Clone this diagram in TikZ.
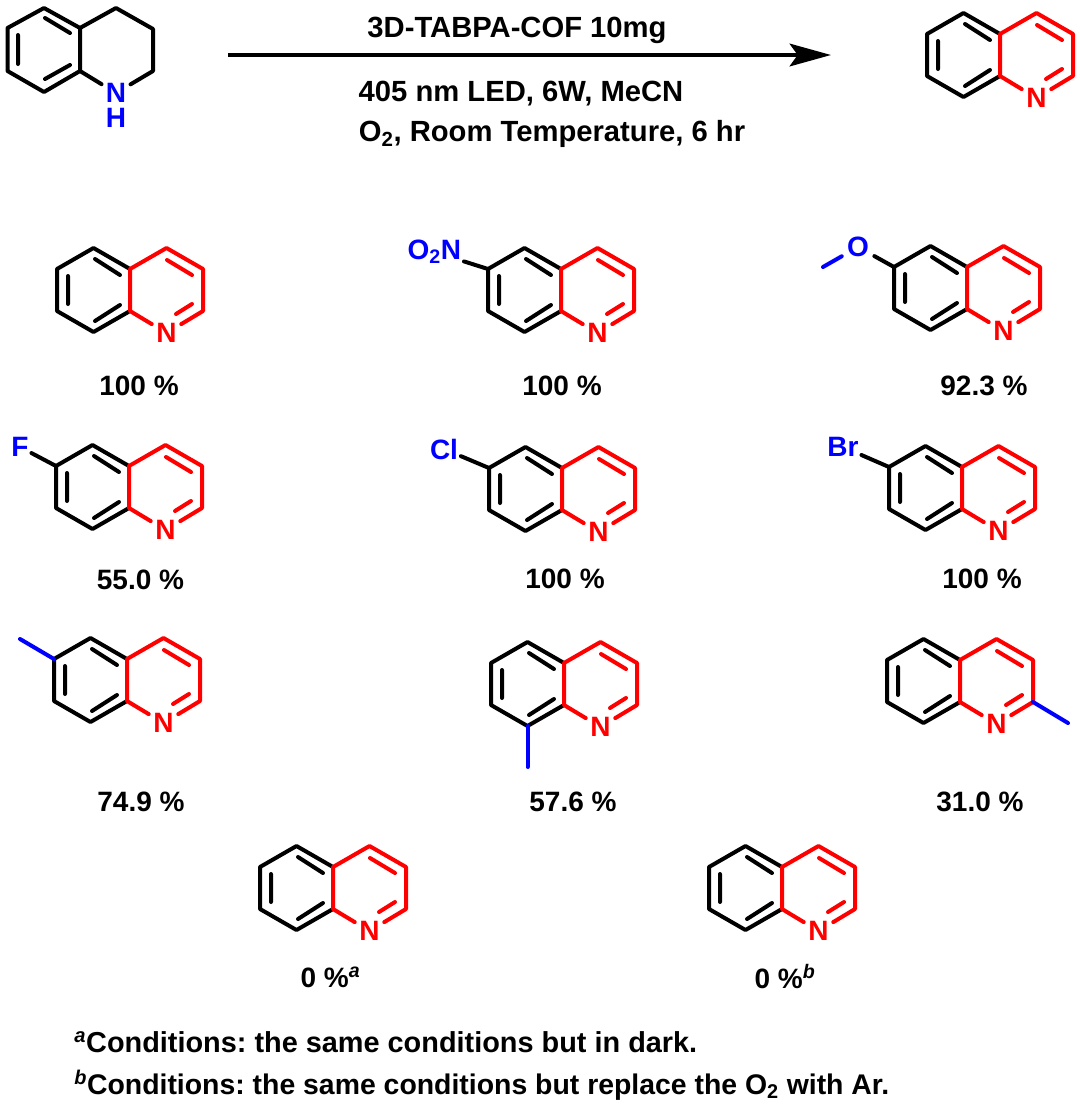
\documentclass[tikz,border=0pt]{standalone}
\usepackage{fontspec}
\setmainfont{Liberation Sans}
\usetikzlibrary{arrows.meta}
\definecolor{hetblue}{RGB}{0,0,255}
\definecolor{hetred}{RGB}{255,0,0}
\newcommand{\lab}{\fontsize{21}{25}\selectfont\bfseries}
\newcommand{\labtop}{\fontsize{21.9}{26}\selectfont\bfseries}
\newcommand{\labnote}{\bfseries\frenchspacing}
\tikzset{
  x=0.75pt,y=-0.75pt,
  bond/.style={line width=3pt,line cap=round,line join=round,black},
  redbond/.style={bond,hetred},
  bluebond/.style={bond,hetblue},
  atomred/.style={circle,inner sep=0pt,minimum size=25.5pt,text=hetred,font=\lab},
  atomblue/.style={inner sep=2pt,text=hetblue,font=\lab},
  lab/.style={inner sep=0pt,font=\lab,text=black},
  labt/.style={inner sep=0pt,font=\labtop,text=black},
  labn/.style={inner sep=0pt,font=\labnote,text=black,anchor=west},
  quinoline/.pic={
    \coordinate (-a) at (0,-21); \coordinate (-b) at (0,21);
    \coordinate (-c5) at (-36.5,-42); \coordinate (-c6) at (-73,-21);
    \coordinate (-c7) at (-73,21); \coordinate (-c8) at (-36.5,42);
    \coordinate (-c4) at (36.5,-42); \coordinate (-c3) at (73,-21);
    \coordinate (-c2) at (73,21);
    \node[atomred] (-n) at (36.5,43) {N};
    \draw[bond] (-a) -- (-c5) -- (-c6) -- (-c7) -- (-c8) -- (-b);
    \draw[bond] (-35,-31) -- (-10,-15) (-62,-14) -- (-62,14) (-35,31) -- (-10,15);
    \draw[redbond] (-n) -- (-b) -- (-a) -- (-c4) -- (-c3) -- (-c2) -- (-n);
    \draw[redbond] (37,-30) -- (62,-15) (46,24) -- (62,14);
  }
}
\begin{document}
\begin{tikzpicture}
\useasboundingbox (0,0) rectangle (1080,1108);
% reactant
\coordinate (ra) at (80,28); \coordinate (rb) at (80,71);
\coordinate (r5) at (44,8); \coordinate (r6) at (7.5,28); \coordinate (r7) at (7.5,71); \coordinate (r8) at (44,92);
\coordinate (r4) at (116,8); \coordinate (r3) at (153,29); \coordinate (r2) at (153,71);
\node[inner sep=0pt,circle,minimum size=25pt,text=hetblue,font=\lab] (rn) at (116,93) {N};
\node[lab,text=hetblue] (rh) at (116,118) {H};
\draw[bond] (rn) -- (rb) -- (ra) -- (r5) -- (r6) -- (r7) -- (r8) -- (rb);
\draw[bond] (ra) -- (r4) -- (r3) -- (r2) -- (rn);
\draw[bond] (45,18) -- (70,33) (18,35) -- (18,64) (45,79) -- (70,65);
% arrow
\coordinate (as) at (228,55); \coordinate (ae) at (831,55);
\draw[line width=3pt,-{Stealth[length=31pt,width=17pt,inset=6pt]}] (as) -- (ae);
\node[labt] (t1) at (517,30) {3D-TABPA-COF 10mg};
\node[labt] (t2) at (521,94) {405 nm LED, 6W, MeCN};
\node[labt] (t3) at (552,134) {O\textsubscript{2}, Room Temperature, 6 hr};
% product
\pic (p) at (1000,55) {quinoline};
% row 1
\pic (a1) at (130,290) {quinoline};
\node[lab] (y1) at (139,386) {100 \%};
\pic (a2) at (561,290) {quinoline};
\node[lab] (y2) at (562,386) {100 \%};
\node[atomblue,anchor=east] (no) at (464,252) {O\textsubscript{2}N};
\draw[bond] (a2-c6) -- (no);
\node[lab] (y3) at (984,386) {92.3 \%};
\pic (a3) at (967,288) {quinoline};
\node[atomblue,circle,inner sep=2pt] (o) at (858,247) {O};
\coordinate (ome) at (823,267);
\draw[bond] (a3-c6) -- (o);
\draw[bluebond] (o) -- (ome);
% row 2
\pic (b1) at (129,487) {quinoline};
\node[atomblue] (f) at (20,447) {F};
\draw[bond] (b1-c6) -- (f);
\node[lab] (y4) at (140.5,580) {55.0 \%};
\pic (b2) at (562,489) {quinoline};
\node[atomblue] (cl) at (444,449) {Cl};
\draw[bond] (b2-c6) -- (cl);
\node[lab] (y5) at (565,579) {100 \%};
\pic (b3) at (962,488) {quinoline};
\node[atomblue] (br) at (843,447) {Br};
\draw[bond] (b3-c6) -- (br);
\node[lab] (y6) at (982,579) {100 \%};
% row 3
\pic (c1) at (127,680) {quinoline};
\coordinate (m1) at (20,639);
\draw[bluebond] (c1-c6) -- (m1);
\node[lab] (y7) at (141,802) {74.9 \%};
\pic (c2) at (564,684) {quinoline};
\coordinate (m2) at (527.5,767);
\draw[bluebond] (c2-c8) -- (m2);
\node[lab] (y8) at (573,802) {57.6 \%};
\pic (c3) at (960,681) {quinoline};
\coordinate (m3) at (1068,723);
\draw[bluebond] (c3-c2) -- (m3);
\node[lab] (y9) at (980,802) {31.0 \%};
% row 4
\pic (d1) at (333,888) {quinoline};
\node[lab] (y10) at (330.5,977) {0 \%\textsuperscript{\itshape a}};
\pic (d2) at (782,888) {quinoline};
\node[lab] (y11) at (785,977) {0 \%\textsuperscript{\itshape b}};
% notes
\node[labn] (n1) at (74,1042) {\fontsize{21.65}{26}\selectfont\textsuperscript{\itshape a}Conditions: the same conditions but in dark.};
\node[labn] (n2) at (74,1085) {\fontsize{21.3}{26}\selectfont\textsuperscript{\itshape b}Conditions: the same conditions but replace the O\textsubscript{2} with Ar.};
\end{tikzpicture}
\end{document}
